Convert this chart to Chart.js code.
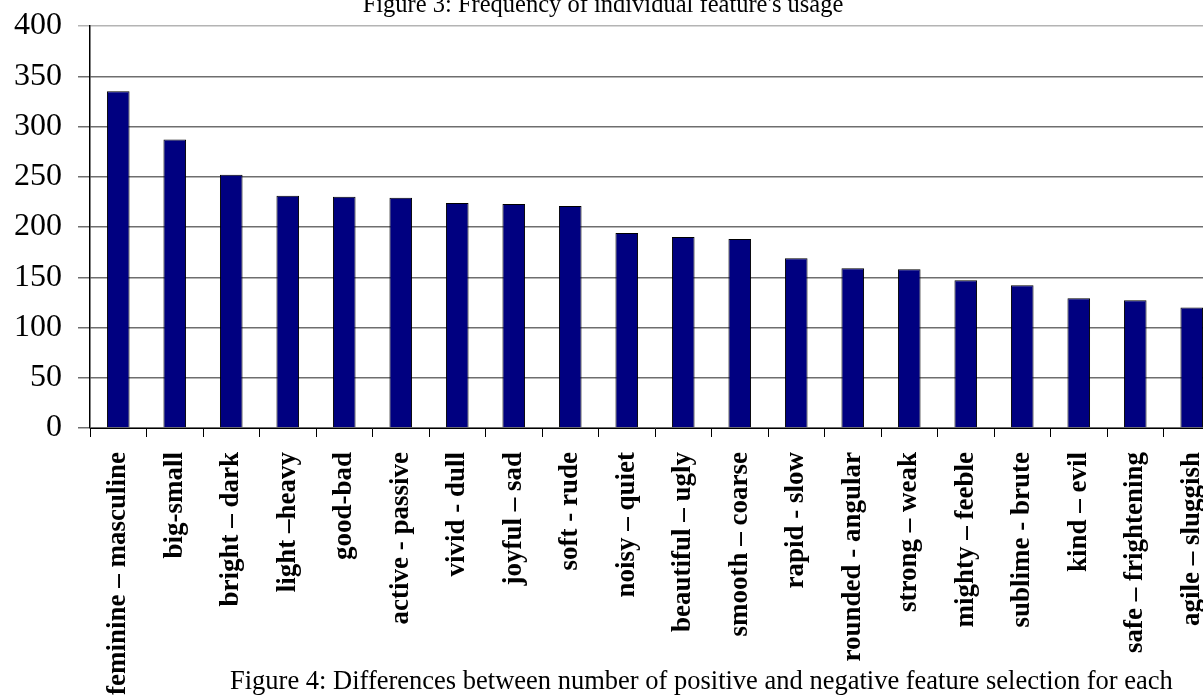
<!DOCTYPE html>
<html>
<head>
<meta charset="utf-8">
<script src="https://cdn.jsdelivr.net/npm/chart.js@4.4.0/dist/chart.umd.min.js"></script>
<style>
  html, body { margin: 0; padding: 0; background: #fff; overflow: hidden; }
  canvas { display: block; }
</style>
</head>
<body>
<canvas id="chart" width="1240" height="695"></canvas>
<script>
// feature pairs, sorted by how often they were used
const features = [
  'feminine – masculine', 'big-small', 'bright – dark', 'light –heavy', 'good-bad',
  'active - passive', 'vivid - dull', 'joyful – sad', 'soft - rude', 'noisy – quiet',
  'beautiful – ugly', 'smooth – coarse', 'rapid - slow', 'rounded - angular', 'strong – weak',
  'mighty – feeble', 'sublime - brute', 'kind – evil', 'safe – frightening', 'agile – sluggish'
];
const usage = [335, 287, 252, 231, 230, 229, 224, 223, 221, 194, 190, 188, 169, 159, 158, 147, 142, 129, 127, 120];

const yMin = 0;
const yMax = 400;
const yStep = 50;

const figTitle = "Figure 3: Frequency of individual feature's usage";
const nextCaption = 'Figure 4: Differences between number of positive and negative feature selection for each';

// the page captions above and below the plot
const captions = {
  id: 'captions',
  afterDraw(chart) {
    const ctx = chart.ctx;
    ctx.save();
    ctx.fillStyle = '#000';
    ctx.textBaseline = 'alphabetic';
    ctx.font = '24.5px "Liberation Serif"';
    ctx.textAlign = 'center';
    ctx.fillText(figTitle, 603, 12);
    ctx.font = '26.5px "Liberation Serif"';
    ctx.textAlign = 'left';
    ctx.fillText(nextCaption, 230, 689);
    ctx.restore();
  }
};

const ctx = document.getElementById('chart').getContext('2d');

new Chart(ctx, {
  type: 'bar',
  data: {
    labels: features,
    datasets: [{
      data: usage,
      backgroundColor: '#000080',
      borderColor: '#000',
      borderWidth: 1,
      barPercentage: 0.4,
      categoryPercentage: 1
    }]
  },
  options: {
    responsive: false,
    animation: false,
    layout: { padding: { top: 26, right: 20, left: 0, bottom: 0 } },
    plugins: {
      legend: { display: false },
      tooltip: { enabled: false }
    },
    scales: {
      x: {
        grid: {
          offset: true,
          drawOnChartArea: false,
          drawTicks: true,
          tickLength: 9,
          color: '#000'
        },
        border: { color: '#000', width: 1 },
        ticks: {
          autoSkip: false,
          maxRotation: 90,
          minRotation: 90,
          padding: 15,
          color: '#000',
          font: { family: 'Liberation Serif', size: 27, weight: 'bold' }
        },
        afterFit(scale) {
          scale.height = 267;
          scale.paddingLeft = 0;
          scale.paddingRight = 0;
        }
      },
      y: {
        min: yMin,
        max: yMax,
        grid: {
          color: c => (c.tick && c.tick.value === yMax) ? '#b4b4b4' : '#6e6e6e',
          lineWidth: 1.5,
          tickLength: 12
        },
        border: { color: '#000', width: 1.5 },
        ticks: {
          stepSize: yStep,
          padding: 16,
          color: '#000',
          font: { family: 'Liberation Serif', size: 32 }
        },
        afterFit(scale) {
          scale.width = 90;
          scale.paddingTop = 0;
          scale.paddingBottom = 0;
        }
      }
    }
  },
  plugins: [captions]
});
</script>
</body>
</html>
